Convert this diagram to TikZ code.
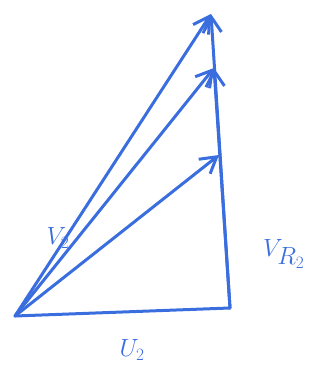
\documentclass[tikz,border=0pt]{standalone}
\usepackage{xcolor}
\usetikzlibrary{arrows.meta,calc,positioning}
\definecolor{penblue}{RGB}{58,110,222}
\begin{document}
\begin{tikzpicture}[x=1pt,y=-1pt,>={Straight Barb[length=5.5mm,width=6.5mm]}]
  \tikzset{vec/.style={penblue,line width=3pt,line cap=round,line join=round},
    lbl/.style={penblue,inner sep=1pt,font=\fontsize{26}{28}\selectfont}}
  \useasboundingbox (0,0) rectangle (324,374);
  \coordinate (O) at (15,316);
  \coordinate (C) at (230,308);
  \coordinate (A) at (219,155);
  \coordinate (B) at (214,68);
  \coordinate (T) at (211,14);
  % triangle sides
  \draw[vec] (O) -- (C);
  \draw[vec,->] (C) -- (B);
  \draw[vec,->] (C) -- (T);
  % absolute velocities
  \draw[vec,->] (O) -- (A);
  \draw[vec,->] (O) -- (B);
  \draw[vec,->] (O) -- (T);
  % labels
  \node[lbl] (v2) at (58,238) {$V_2$};
  \node[lbl] (vr2) at (284,254) {$V_{\textstyle R_2}$};
  \node[lbl] (u2) at (132,350) {$U_2$};
\end{tikzpicture}
\end{document}
